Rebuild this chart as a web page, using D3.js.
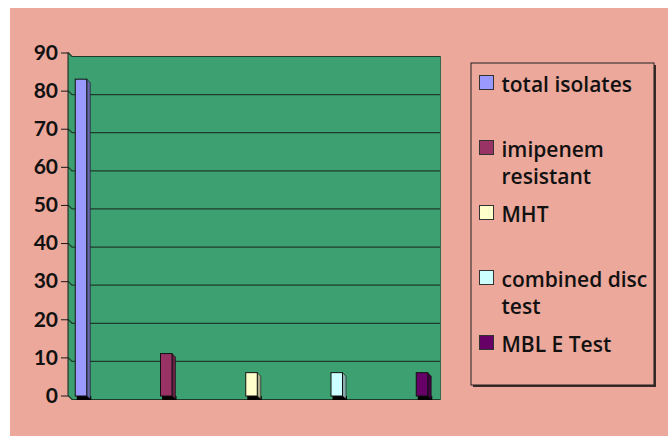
<!DOCTYPE html>
<html>
<head>
<meta charset="utf-8">
<script src="https://d3js.org/d3.v7.min.js"></script>
<style>
  body { margin: 0; background: #fff; }
</style>
</head>
<body>
<div id="chart"></div>
<script>
// data
var series = ["total isolates", "imipenem resistant", "MHT", "combined disc test", "MBL E Test"];
var values = [83, 11, 6, 6, 6];
var colors = ["#9999FF", "#993366", "#FFFFCC", "#CCFFFF", "#660066"];
var legendLines = [["total isolates"], ["imipenem", "resistant"], ["MHT"], ["combined disc", "test"], ["MBL E Test"]];
var yTicks = [0, 10, 20, 30, 40, 50, 60, 70, 80, 90];

var W = 668, H = 436;
var svg = d3.select("#chart").append("svg")
    .attr("width", W).attr("height", H);

// pink chart area
svg.append("rect")
    .attr("x", 10).attr("y", 8)
    .attr("width", W - 10).attr("height", H - 8)
    .attr("fill", "#EBA89B");

var left = 68, right = 440.5, dx = 4, dy = 4;

var y = d3.scaleLinear().domain([0, 90]).range([395.5, 52.5]);
var x = d3.scalePoint().domain(series).range([81, 422]);

// back wall (green)
var yTop = y(90), yBot = y(0);
svg.append("path")
    .attr("d", "M" + left + "," + yTop + "L" + (left + dx) + "," + (yTop + dy) +
        "L" + right + "," + (yTop + dy) + "L" + right + "," + (yBot + dy + 0.5) +
        "L" + (left + dx) + "," + (yBot + dy + 0.5) + "L" + left + "," + yBot + "Z")
    .attr("fill", "#3CA070");

// gridlines with 3d kink
svg.append("g").selectAll("path")
    .data(yTicks).enter().append("path")
    .attr("d", function (d) {
        return "M" + left + "," + y(d) + "L" + (left + dx) + "," + (y(d) + dy) + "L" + right + "," + (y(d) + dy);
    })
    .attr("fill", "none")
    .attr("stroke", "#1f3b2c")
    .attr("stroke-width", 1.2);

svg.append("line")
    .attr("x1", right).attr("x2", right)
    .attr("y1", yTop + dy).attr("y2", yBot + dy)
    .attr("stroke", "#2f6b4c");

// y axis
var yAxis = d3.axisLeft(y).tickValues(yTicks).tickSize(7).tickPadding(3);
var ga = svg.append("g")
    .attr("transform", "translate(" + left + ",0)")
    .call(yAxis);
ga.select(".domain").attr("stroke", "#1a1a1a").attr("d", "M0," + yTop + "V" + yBot);
ga.selectAll(".tick line").attr("stroke", "#1a1a1a");
ga.selectAll(".tick text")
    .style("font-family", "Lato, sans-serif")
    .style("font-weight", "bold")
    .style("font-size", "21px")
    .attr("fill", "#111");

// bars
var bw = 11.5, depth = 3.5;
var bars = svg.append("g").selectAll("g")
    .data(series).enter().append("g");

// floor shadow
bars.append("rect")
    .attr("x", function (d) { return x(d) - bw / 2 + 1.5; })
    .attr("y", yBot + 0.5)
    .attr("width", bw + depth - 0.5)
    .attr("height", dy)
    .attr("fill", "#000");

// side face
bars.append("path")
    .attr("d", function (d, i) {
        var x1 = x(d) + bw / 2, yt = y(values[i]);
        return "M" + x1 + "," + yt + "L" + (x1 + depth) + "," + (yt + depth) +
            "L" + (x1 + depth) + "," + (yBot + dy - 0.5) + "L" + x1 + "," + (yBot + 0.5) + "Z";
    })
    .attr("fill", function (d, i) { return d3.color(colors[i]).darker(1.1); })
    .attr("stroke", "#111")
    .attr("stroke-width", 0.6);

// front face
bars.append("rect")
    .attr("x", function (d) { return x(d) - bw / 2; })
    .attr("y", function (d, i) { return y(values[i]); })
    .attr("width", bw)
    .attr("height", function (d, i) { return yBot + 0.5 - y(values[i]); })
    .attr("fill", function (d, i) { return colors[i]; })
    .attr("stroke", "#111")
    .attr("stroke-width", 1);

// legend
svg.append("rect")
    .attr("x", 473).attr("y", 65)
    .attr("width", 183).attr("height", 322)
    .attr("fill", "#3a2a28");
svg.append("rect")
    .attr("x", 471).attr("y", 63)
    .attr("width", 183).attr("height", 322)
    .attr("fill", "#EBA89B")
    .attr("stroke", "#222").attr("stroke-width", 1);

var leg = svg.append("g").selectAll("g")
    .data(series).enter().append("g")
    .attr("transform", function (d, i) { return "translate(479.5," + (75.5 + i * 65) + ")"; });

leg.append("rect")
    .attr("width", 14).attr("height", 14)
    .attr("fill", function (d, i) { return colors[i]; })
    .attr("stroke", "#333").attr("stroke-width", 1);

leg.append("text")
    .attr("x", 22)
    .attr("y", 16)
    .style("font-family", "'Open Sans', sans-serif")
    .style("font-size", "21px")
    .style("font-weight", "600")
    .attr("fill", "#111")
    .selectAll("tspan")
    .data(function (d, i) { return legendLines[i]; })
    .enter().append("tspan")
    .attr("x", 22)
    .attr("dy", function (d, j) { return j === 0 ? 0 : 27; })
    .text(function (d) { return d; });
</script>
</body>
</html>
